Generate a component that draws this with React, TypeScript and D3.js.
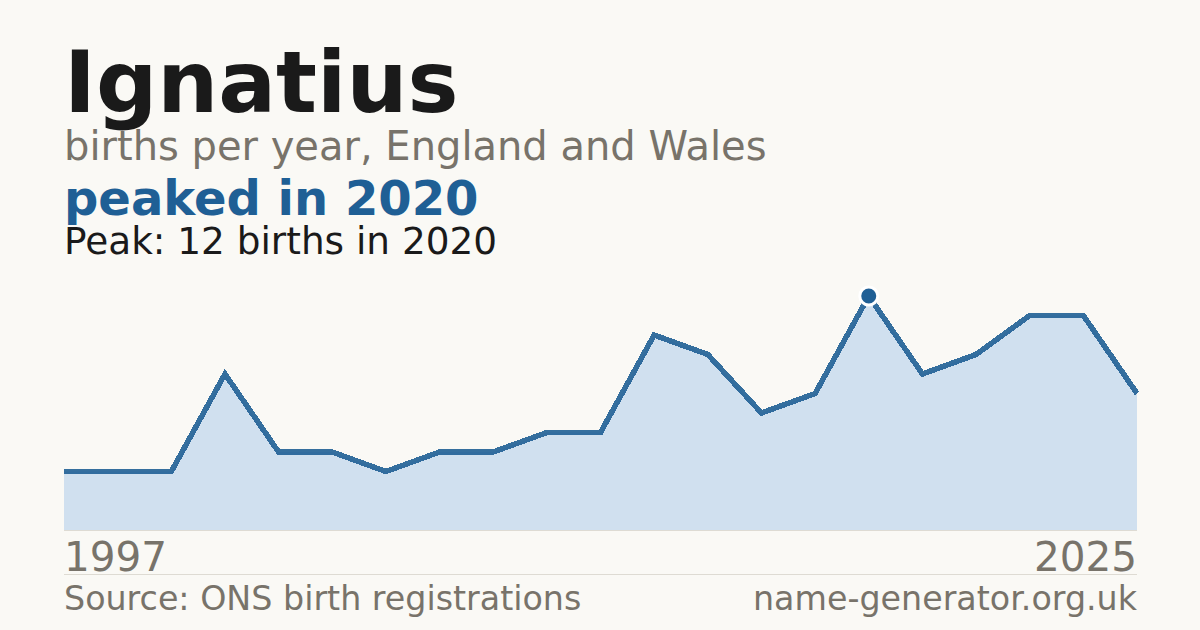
import React from "react";
import * as d3 from "d3";

const years: number[] = [2005, 2006, 2007, 2008, 2009, 2010, 2011, 2012, 2013, 2014, 2015, 2016, 2017, 2018, 2019, 2020, 2021, 2022, 2023, 2024, 2025];
const births: number[] = [3, 3, 3, 8, 4, 4, 3, 4, 4, 5, 5, 10, 9, 6, 7, 12, 8, 9, 11, 11, 7];
const axisLabels: string[] = ["1997", "2025"];
const title = "Ignatius";
const subtitle = "births per year, England and Wales";
const headline = "peaked in 2020";
const peakNote = "Peak: 12 births in 2020";
const source = "Source: ONS birth registrations";
const site = "name-generator.org.uk";

const W = 1200;
const H = 630;
const FONT = "'DejaVu Sans', sans-serif";

export default function App() {
  const x = d3.scaleLinear().domain([years[0], years[years.length - 1]]).range([64, 1137]);
  const y = d3.scaleLinear().domain([0, 12]).range([530, 296]);
  const data = years.map((yr, i) => ({ yr, v: births[i] }));
  const area = d3.area<{ yr: number; v: number }>().x((d) => x(d.yr)).y0(y(0)).y1((d) => y(d.v));
  const line = d3.line<{ yr: number; v: number }>().x((d) => x(d.yr)).y((d) => y(d.v));
  const peakIdx = births.indexOf(d3.max(births) as number);
  const peak = data[peakIdx];

  return (
    <svg width={W} height={H} viewBox={`0 0 ${W} ${H}`} style={{ position: "absolute", left: 0, top: 0, display: "block" }}>
      <rect x={0} y={0} width={W} height={H} fill="#faf9f5" />
      <text x={64} y={112} fontFamily={FONT} fontWeight="bold" fontSize={85.7} fill="#1a1a1a">{title}</text>
      <text x={64} y={160} fontFamily={FONT} fontSize={40} fill="#78736a">{subtitle}</text>
      <text x={64} y={215} fontFamily={FONT} fontWeight="bold" fontSize={48} fill="#1f5f95">{headline}</text>
      <text x={64} y={254} fontFamily={FONT} fontSize={37.4} fill="#1a1a1a">{peakNote}</text>

      <path d={area(data) as string} fill="#d0e0ef" />
      <line x1={64} x2={1137} y1={530.5} y2={530.5} stroke="#dedbd3" strokeWidth={1} />
      <path d={line(data) as string} fill="none" stroke="#1f5f95" strokeWidth={5.5} strokeLinejoin="miter" shapeRendering="crispEdges" opacity={0.9} />
      <circle cx={x(peak.yr)} cy={y(peak.v)} r={9} fill="#1f5f95" stroke="#ffffff" strokeWidth={3} />

      <text x={64} y={571} fontFamily={FONT} fontSize={40.5} fill="#78736a">{axisLabels[0]}</text>
      <text x={1137} y={571} fontFamily={FONT} fontSize={40.5} fill="#78736a" textAnchor="end">{axisLabels[1]}</text>
      <line x1={64} x2={1137} y1={574.5} y2={574.5} stroke="#dedbd3" strokeWidth={1} />
      <text x={64} y={610} fontFamily={FONT} fontSize={33.3} fill="#78736a">{source}</text>
      <text x={1137} y={610} fontFamily={FONT} fontSize={33.3} fill="#78736a" textAnchor="end">{site}</text>
    </svg>
  );
}
